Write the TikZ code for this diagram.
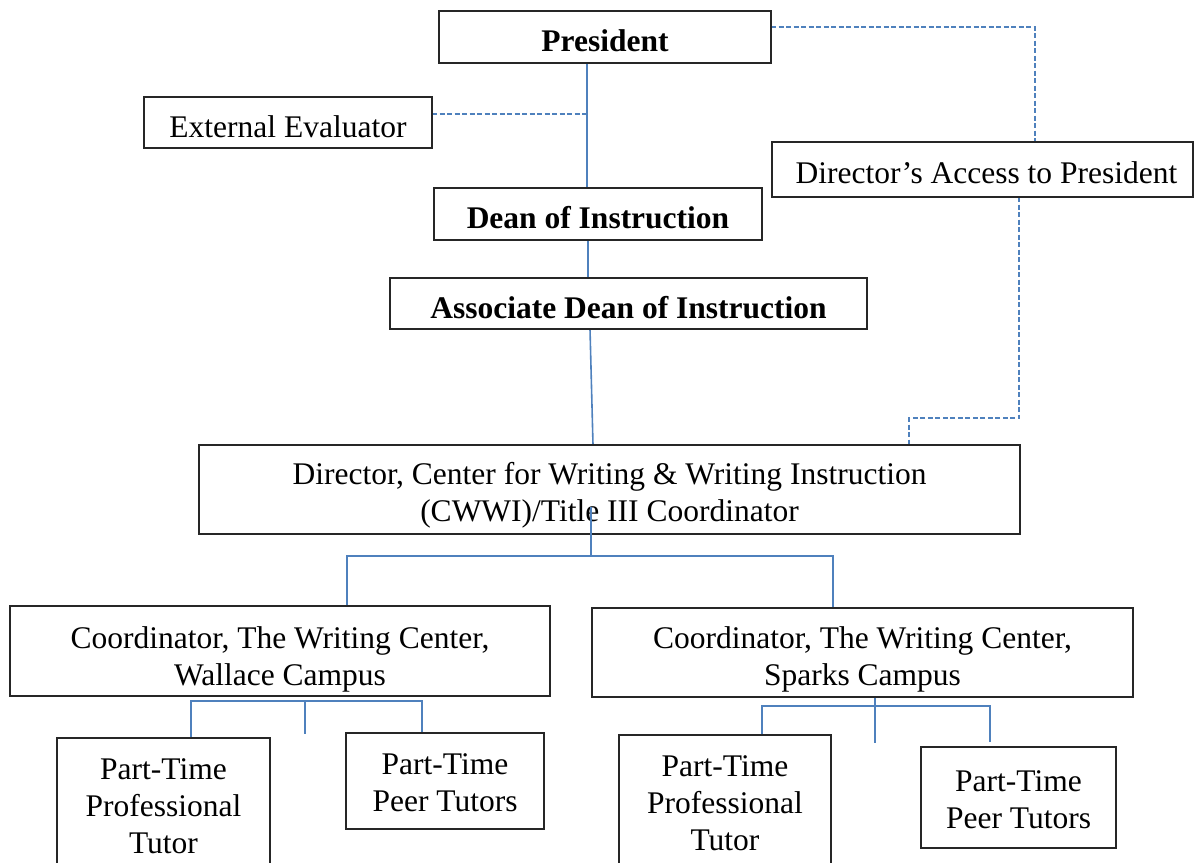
\documentclass[tikz,border=0pt]{standalone}
\usepackage{fontspec}
\setmainfont{Liberation Serif}
\definecolor{linkblue}{RGB}{79,129,189}
\tikzset{
  box/.style={draw=black!85, line width=1.2pt, fill=white, inner sep=0pt},
  txt/.style={inner sep=0pt, align=center, font=\fontsize{31.5pt}{37pt}\selectfont},
  btxt/.style={txt, font=\fontsize{31.5pt}{37pt}\selectfont\bfseries},
  conn/.style={draw=linkblue, line width=1.6pt},
  dconn/.style={draw=linkblue, line width=1.4pt, dash pattern=on 5pt off 2.5pt}
}
\begin{document}
\begin{tikzpicture}[x=1pt, y=-1pt]
\useasboundingbox (0,0) rectangle (1196,862);
% coordinates
\coordinate (t1) at (587,0);
\coordinate (t2) at (588,0);
\coordinate (t3) at (1035,0);
\coordinate (t4) at (1019,0);
\coordinate (bend) at (909,418);
\coordinate (dtop) at (591,507);
\coordinate (j1) at (591,556);
\coordinate (cwx) at (347,556);
\coordinate (csx) at (833,556);
\coordinate (wl) at (191,701);
\coordinate (wr) at (422,701);
\coordinate (wm) at (305,701);
\coordinate (wmend) at (305,734);
\coordinate (sl) at (762,706);
\coordinate (sr) at (990,706);
\coordinate (srend) at (990,742);
\coordinate (sm) at (875,706);
\coordinate (smend) at (875,743);

% connectors (drawn first, boxes on top)
\draw[conn] (t1 |- 0,63) -- (t1 |- 0,188);
\draw[dconn] (432,114) -- (t1 |- 0,114);
\draw[conn] (t2 |- 0,240) -- (t2 |- 0,278);
\draw[conn] (590,329) -- (593,445);
\draw[dconn] (771,27) -| (t3 |- 0,142);
\draw[dconn] (t4 |- 0,197) |- (bend) -- (909,445);

% nodes
\node[box, minimum width=332pt, minimum height=52pt,
      label={[btxt, yshift=-4pt]center:President}] (pres) at (605,37) {};
\node[box, minimum width=288pt, minimum height=51pt,
      label={[txt, yshift=-4pt]center:External Evaluator}] (ext) at (288,122.5) {};
\node[box, minimum width=328pt, minimum height=52pt,
      label={[btxt, yshift=-4pt]center:Dean of Instruction}] (dean) at (598,214) {};
\node[box, minimum width=477pt, minimum height=51pt,
      label={[btxt, yshift=-4pt]center:Associate Dean of Instruction}] (adean) at (628.5,303.5) {};
\node[box, minimum width=421pt, minimum height=55pt,
      label={[txt, yshift=-3pt, xshift=4pt]center:Director’s Access to President}] (acc) at (982.5,169.5) {};
\node[box, minimum width=821pt, minimum height=89pt,
      label={[txt, yshift=-6pt]center:{Director, Center for Writing \& Writing Instruction\\(CWWI)/Title III Coordinator}}] (dir) at (609.5,489.5) {};
\node[box, minimum width=540pt, minimum height=90pt,
      label={[txt, yshift=-8pt]center:{Coordinator, The Writing Center,\\Wallace Campus}}] (cw) at (280,651) {};
\node[box, minimum width=541pt, minimum height=89pt,
      label={[txt, yshift=-7pt]center:{Coordinator, The Writing Center,\\Sparks Campus}}] (cs) at (862.5,652.5) {};
\node[box, minimum width=213pt, minimum height=132pt,
      label={[txt, yshift=-2pt]center:{Part-Time\\Professional\\Tutor}}] (wpro) at (163.5,804) {};
\node[box, minimum width=198pt, minimum height=96pt,
      label={[txt, yshift=-2pt]center:{Part-Time\\Peer Tutors}}] (wpeer) at (445,781) {};
\node[box, minimum width=212pt, minimum height=133pt,
      label={[txt, yshift=-2pt]center:{Part-Time\\Professional\\Tutor}}] (spro) at (725,801.5) {};
\node[box, minimum width=195pt, minimum height=101pt,
      label={[txt, yshift=-2pt]center:{Part-Time\\Peer Tutors}}] (speer) at (1018.5,797.5) {};

% connectors drawn over boxes
\draw[conn] (dtop) -- (j1);
\draw[conn] (cw.north -| cwx) -- (cwx) -- (csx) -- (cs.north -| csx);
\draw[conn] (wpro.north -| wl) -- (wl) -- (wr) -- (wpeer.north -| wr);
\draw[conn] (wm) -- (wmend);
\draw[conn] (spro.north -| sl) -- (sl) -- (sr) -- (srend);
\draw[conn] (cs.south -| sm) -- (smend);
\end{tikzpicture}
\end{document}
